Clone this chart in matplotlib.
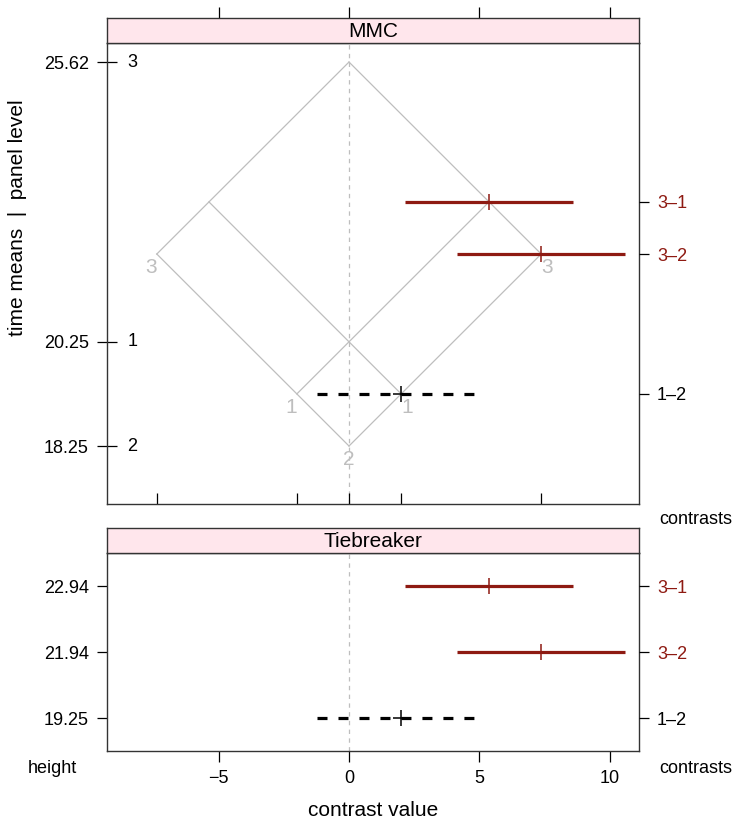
import numpy as np
import matplotlib.pyplot as plt
from matplotlib.transforms import blended_transform_factory

plt.rcParams['font.family'] = ['Liberation Sans', 'DejaVu Sans']

# group means (MMC panel)
groups = ['3', '1', '2']
means = [25.62, 20.25, 18.25]

# pairwise contrasts
contrasts = ['3\u20131', '3\u20132', '1\u20132']
estimates = [5.37, 7.37, 2.00]
lower = [2.14, 4.14, -1.23]
upper = [8.60, 10.60, 5.19]
heights = [22.935, 21.935, 19.25]
height_labels = ['22.94', '21.94', '19.25']
significant = [True, True, False]

xticks = [-5, 0, 5, 10]

W, H = 732, 822
RED = '#8E1A12'
GREY = '#BEBEBE'
FRAME = '#333333'
STRIP = '#FFE6EC'
FS = 13

def rect(l, t, r, b):
    return [l / W, 1 - b / H, (r - l) / W, (b - t) / H]


fig = plt.figure(figsize=(W / 100, H / 100), dpi=100)
xlim = (-9.28, 11.12)


def style_frame(ax):
    for s in ax.spines.values():
        s.set_color(FRAME)
        s.set_linewidth(1.0)


def draw_contrasts(ax, ys):
    for i in range(len(contrasts)):
        if significant[i]:
            ax.plot([lower[i], upper[i]], [ys[i], ys[i]], color=RED, lw=2.3,
                    solid_capstyle='butt', zorder=3)
            ax.plot(estimates[i], ys[i], marker='|', ms=11, mew=1.1, color=RED, zorder=4)
        else:
            ax.plot([lower[i], upper[i]], [ys[i], ys[i]], color='black', lw=2.3,
                    dashes=(3.13, 3.44), dash_capstyle='butt', zorder=3)
            ax.plot(estimates[i], ys[i], marker='|', ms=11, mew=1.1, color='black', zorder=4)
            ax.plot(estimates[i], ys[i], marker='_', ms=11, mew=1.1, color='black', zorder=4)


def right_axis(ax, ys, ylim):
    ax2 = ax.twinx()
    ax2.set_ylim(ylim)
    ax2.set_yticks(ys)
    ax2.set_yticklabels(contrasts, fontsize=FS)
    ax2.tick_params(axis='y', direction='out', length=7, width=0.9, pad=6)
    for i, (lab, tk) in enumerate(zip(ax2.get_yticklabels(), ax2.yaxis.get_major_ticks())):
        c = RED if significant[i] else 'black'
        lab.set_color(c)
        tk.tick2line.set_color(c)
    for s in ax2.spines.values():
        s.set_visible(False)
    return ax2


def strip(t, b, title):
    sa = fig.add_axes(rect(107, t, 639, b))
    sa.set_facecolor(STRIP)
    sa.set_xlim(xlim)
    sa.set_yticks([])
    sa.set_xticks([])
    sa.text(0.5, 0.47, title, transform=sa.transAxes, ha='center', va='center', fontsize=15)
    style_frame(sa)
    return sa


# ---------------- MMC panel ----------------
ylim1 = (17.137, 25.985)
ax1 = fig.add_axes(rect(107, 43, 639, 504))
ax1.set_xlim(xlim)
ax1.set_ylim(ylim1)
style_frame(ax1)

ax1.axvline(0, color=GREY, lw=0.9, dashes=(3.5, 3.5), zorder=1)

# isomeans grid
mmin, mmax = min(means), max(means)
for m in means:
    ax1.plot([m - mmin, m - mmax], [(m + mmin) / 2, (m + mmax) / 2], color=GREY, lw=0.9, zorder=2)
    ax1.plot([mmin - m, mmax - m], [(m + mmin) / 2, (m + mmax) / 2], color=GREY, lw=0.9, zorder=2)
for g, m in zip(groups, means):
    d = m - mmin
    yy = (m + mmin) / 2
    if d == 0:
        ax1.annotate(g, (0, yy), xytext=(0, -3), textcoords='offset points',
                     ha='center', va='top', color=GREY, fontsize=15)
    else:
        ax1.annotate(g, (d, yy), xytext=(4, -3), textcoords='offset points',
                     ha='center', va='top', color=GREY, fontsize=15)
        ax1.annotate(g, (-d, yy), xytext=(-4, -3), textcoords='offset points',
                     ha='center', va='top', color=GREY, fontsize=15)

draw_contrasts(ax1, heights)

ax1.set_yticks(means)
ax1.set_yticklabels(['%.2f' % m for m in means], fontsize=FS)
ax1.tick_params(axis='y', direction='inout', length=14, width=0.9, pad=6)
tr = blended_transform_factory(ax1.transAxes, ax1.transData)
for g, m in zip(groups, means):
    ax1.text(0.048, m, g, transform=tr, ha='center', va='center', fontsize=FS)

corner_x = sorted(set([m - mmin for m in means] + [mmin - m for m in means]))
ax1.set_xticks(corner_x)
ax1.set_xticklabels([])
ax1.tick_params(axis='x', direction='in', length=8, width=0.9)

right_axis(ax1, heights, ylim1)

s1 = strip(18, 43, 'MMC')
s1.set_xticks(xticks)
s1.tick_params(axis='x', bottom=False, labelbottom=False, top=True, labeltop=False,
               direction='out', length=8, width=0.9)

# ---------------- Tiebreaker panel ----------------
ylim2 = (0.5, 3.5)
pos = [3, 2, 1]
ax2 = fig.add_axes(rect(107, 553, 639, 751))
ax2.set_xlim(xlim)
ax2.set_ylim(ylim2)
style_frame(ax2)
ax2.axvline(0, color=GREY, lw=0.9, dashes=(3.5, 3.5), zorder=1)
draw_contrasts(ax2, pos)
ax2.set_yticks(pos)
ax2.set_yticklabels(height_labels, fontsize=FS)
ax2.tick_params(axis='y', direction='out', length=7, width=0.9, pad=6)
ax2.set_xticks(xticks)
ax2.set_xticklabels(['\u2212%d' % -v if v < 0 else '%d' % v for v in xticks], fontsize=FS)
ax2.tick_params(axis='x', direction='out', length=8, width=0.9, pad=6)
right_axis(ax2, pos, ylim2)

strip(528, 553, 'Tiebreaker')

# ---------------- labels ----------------
fig.text(659 / W, 1 - 520 / H, 'contrasts', ha='left', va='center', fontsize=FS)
fig.text(659 / W, 1 - 768 / H, 'contrasts', ha='left', va='center', fontsize=FS)
fig.text(28 / W, 1 - 768 / H, 'height', ha='left', va='center', fontsize=FS)
fig.text(373 / W, 1 - 810 / H, 'contrast value', ha='center', va='center', fontsize=15)
fig.text(18 / W, 1 - 218 / H, 'time means  |  panel level', ha='center', va='center',
         rotation=90, fontsize=15)

plt.savefig('out.png', dpi=100)
